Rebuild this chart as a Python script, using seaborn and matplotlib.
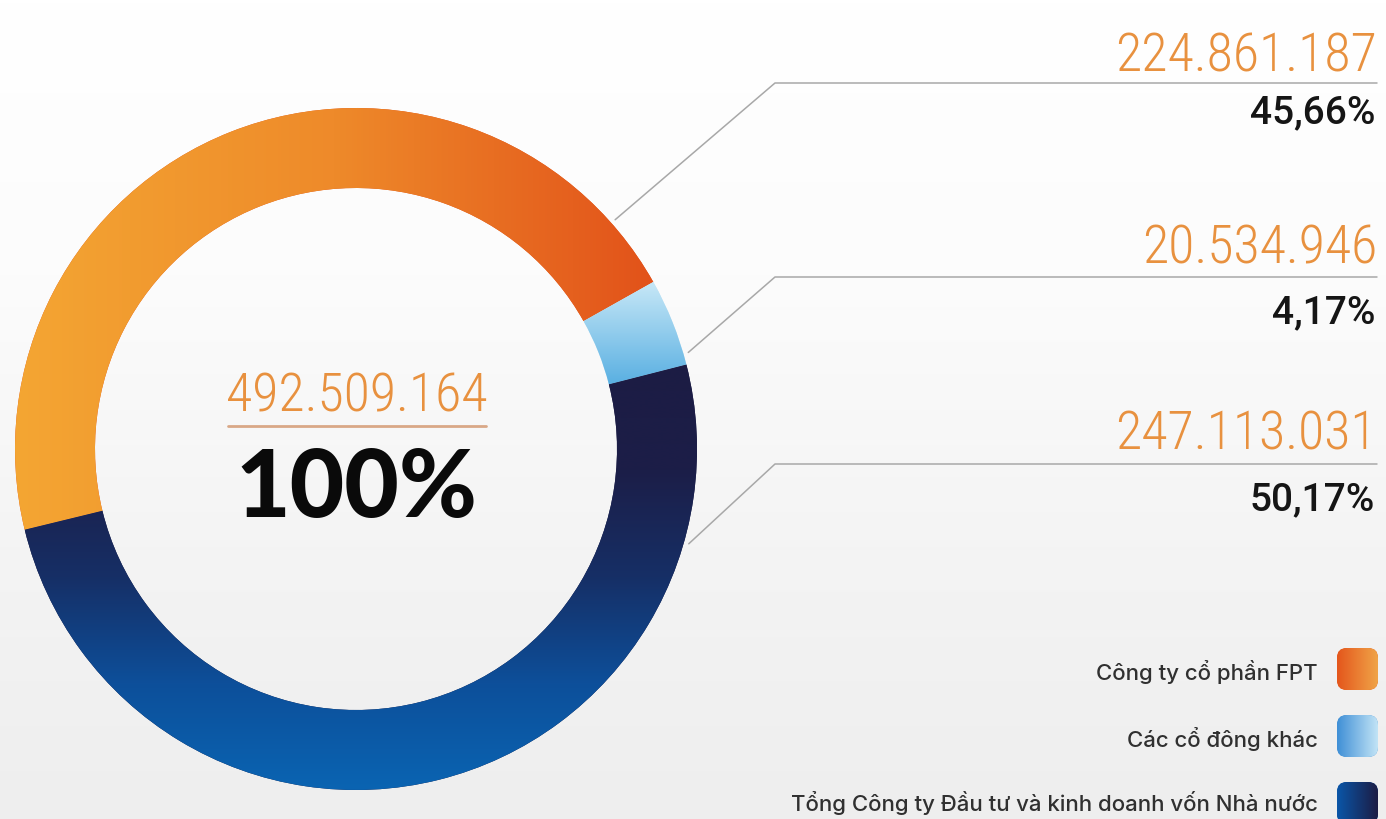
import numpy as np
import matplotlib
matplotlib.use("Agg")
import matplotlib.pyplot as plt
from matplotlib import font_manager
from matplotlib.patches import FancyBboxPatch
import seaborn as sns

# Cơ cấu cổ đông
groups = ["Công ty cổ phần FPT", "Các cổ đông khác",
          "Tổng Công ty Đầu tư và kinh doanh vốn Nhà nước"]
shares = [224861187, 20534946, 247113031]
share_text = ["224.861.187", "20.534.946", "247.113.031"]
pct_text = ["45,66%", "4,17%", "50,17%"]
total_text = "492.509.164"
total_pct = "100%"

# mau gradient cho tung phan
ring_colors = [["#F4A633", "#EE8A2A", "#E2521A"],
               ["#5AB0E2", "#C8E8F7"],
               ["#0A64B2", "#0D4F9A", "#162F66", "#1C1E48", "#1C1C44"]]
swatch_colors = [["#E4561C", "#F0A448"],
                 ["#3F8FD6", "#C2E4F6"],
                 ["#0A56A8", "#1C1C44"]]


def first_font(names):
    for name in names:
        try:
            font_manager.findfont(font_manager.FontProperties(family=name),
                                  fallback_to_default=False)
            return name
        except ValueError:
            pass
    return "DejaVu Sans"


sns.set_theme(style="white")
plt.rcParams["font.family"] = ["Inter", "DejaVu Sans"]
thin_font = first_font(["Roboto Condensed", "Liberation Sans Narrow", "Roboto"])
pct_font = first_font(["Roboto", "DejaVu Sans"])
big_font = first_font(["Lato", "Roboto", "DejaVu Sans"])

W, H = 1386, 819
fig = plt.figure(figsize=(W / 100, H / 100), dpi=100)
ax = fig.add_axes([0, 0, 1, 1])

# nen
bg = sns.blend_palette(["#EEEEEE", "#F4F4F4", "#FCFCFC", "#FFFFFF"], as_cmap=True)
ax.imshow(np.linspace(0, 1, 256)[:, None], cmap=bg, extent=[0, W, 0, H],
          origin="lower", aspect="auto", zorder=0)


def paint(patch, colors, vertical):
    bb = patch.get_path().get_extents()
    cmap = sns.blend_palette(colors, as_cmap=True)
    grad = np.linspace(0, 1, 256)
    img = grad[:, None] if vertical else grad[None, :]
    im = ax.imshow(img, cmap=cmap, extent=[bb.x0, bb.x1, bb.y0, bb.y1],
                   origin="lower", aspect="auto", interpolation="bicubic", zorder=2)
    im.set_clip_path(patch)


# donut
cx, cy, R, ring = 356, H - 449, 341, 80
wedges, _ = ax.pie(shares, radius=R, center=(cx, cy), startangle=193.7,
                   counterclock=False, colors=[c[-1] for c in ring_colors],
                   wedgeprops=dict(width=ring, edgecolor="none"), frame=True)
for w, cols, vert in zip(wedges, ring_colors, [False, True, True]):
    paint(w, cols, vert)

# duong dan
anchor_deg = [41.5, 16.2, -15.9]
line_y = [83, 277, 464]
for a, ly in zip(anchor_deg, line_y):
    t = np.deg2rad(a)
    x0, y0 = cx + (R + 5) * np.cos(t), cy + (R + 5) * np.sin(t)
    ax.plot([x0, 775, 1377], [y0, H - ly, H - ly], color="#A8A8A8", lw=1.1, zorder=3)

# so lieu ben phai
thin = []
for s, base in zip(share_text, [72, 263, 450]):
    thin.append(ax.text(1377, H - base, s, ha="right", va="baseline", color="#E8913F",
                        family=[thin_font, "DejaVu Sans"], fontweight="light",
                        fontsize=36, zorder=4))
for p, base in zip(pct_text, [123, 323, 510]):
    ax.text(1375, H - base, p, ha="right", va="baseline", color="#151515",
            family=[pct_font, "DejaVu Sans"], fontweight="medium", fontsize=28, zorder=4)

# tong o giua
thin.append(ax.text(357, H - 412, total_text, ha="center", va="baseline", color="#E8913F",
                    family=[thin_font, "DejaVu Sans"], fontweight="light",
                    fontsize=36, zorder=4))
big = ax.text(356, H - 517, total_pct, ha="center", va="baseline", color="#0A0A0A",
              family=[big_font, "DejaVu Sans"], fontweight="black", fontsize=70, zorder=4)

# chu thich
for g, cols, base, top in zip(groups, swatch_colors, [680, 747, 811], [648, 715, 782]):
    ax.text(1318, H - base, g, ha="right", va="baseline", color="#303030",
            fontsize=16, fontweight="medium", zorder=4)
    sw = FancyBboxPatch((1337, H - top - 42), 41, 42,
                        boxstyle="round,pad=0,rounding_size=10",
                        facecolor=cols[0], edgecolor="none", zorder=2)
    ax.add_patch(sw)
    paint(sw, cols, False)

ax.set_xlim(0, W)
ax.set_ylim(0, H)
ax.axis("off")

# chinh co chu theo do rong
fig.canvas.draw()
renderer = fig.canvas.get_renderer()
w0 = thin[0].get_window_extent(renderer).width
size = thin[0].get_fontsize() * 262 / w0
for t in thin:
    t.set_fontsize(size)
wb = big.get_window_extent(renderer).width
big.set_fontsize(big.get_fontsize() * 242 / wb)

# gach chan duoi tong so
fig.canvas.draw()
bb = ax.transData.inverted().transform(thin[-1].get_window_extent(renderer))
ax.plot([bb[0, 0] + 2, bb[1, 0] - 2], [H - 426, H - 426], color="#D9A887", lw=2, zorder=4)

ax.set_xlim(0, W)
ax.set_ylim(0, H)
fig.savefig("out.png", dpi=100, facecolor="#F6F6F6")
